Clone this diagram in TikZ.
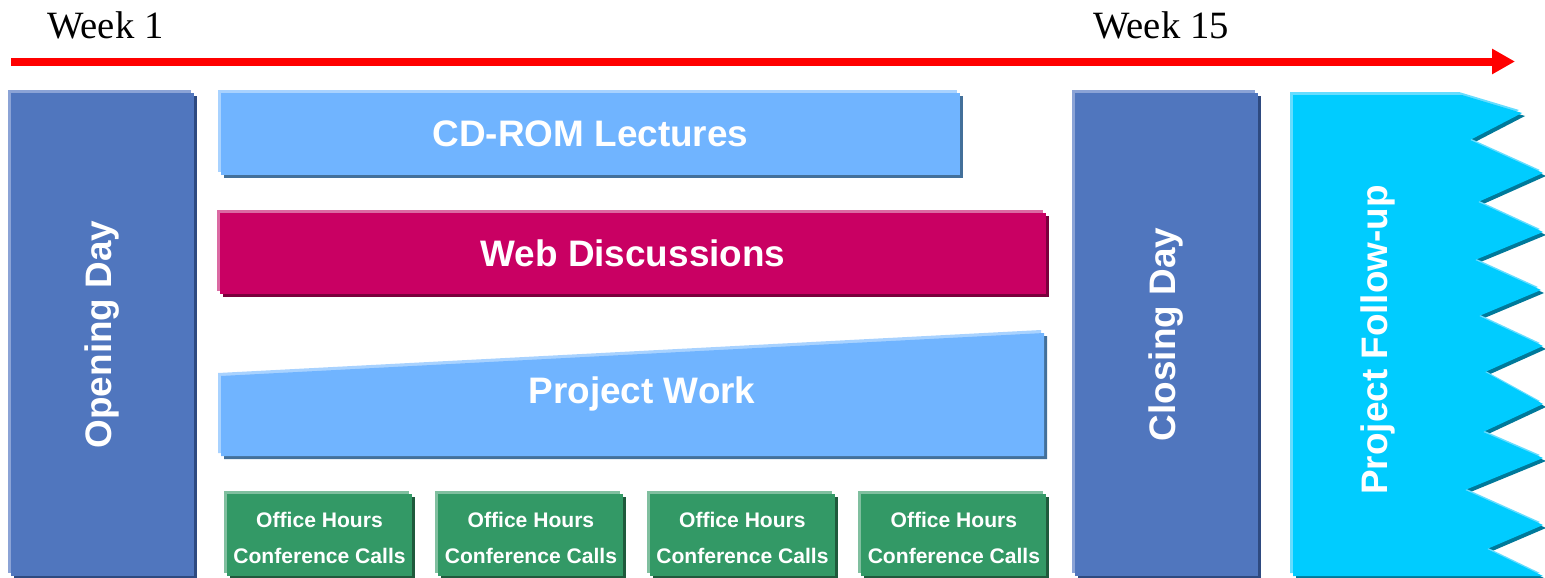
\documentclass[tikz,border=0pt]{standalone}
\usepackage{fontspec}
\setmainfont{Liberation Serif}
\setsansfont{Liberation Sans}
\usepackage{tikz}
\usetikzlibrary{arrows.meta, positioning, shadows}
\definecolor{dayblue}{HTML}{5076BE}
\definecolor{daylight}{HTML}{8BA3D6}
\definecolor{daydark}{HTML}{2E4A80}
\definecolor{lectureblue}{HTML}{70B4FF}
\definecolor{lecturelight}{HTML}{A8D2FF}
\definecolor{lecturedark}{HTML}{43709A}
\definecolor{webpink}{HTML}{C90063}
\definecolor{weblight}{HTML}{DB6AA3}
\definecolor{webdark}{HTML}{7A003C}
\definecolor{officegreen}{HTML}{339966}
\definecolor{officelight}{HTML}{80BF9F}
\definecolor{officedark}{HTML}{1F5A3C}
\definecolor{followcyan}{HTML}{00CCFF}
\definecolor{followlight}{HTML}{66DDFF}
\definecolor{followdark}{HTML}{00799A}
\tikzset{
    slab/.style n args={3}{fill=#1, copy shadow={shadow xshift=0.06cm, shadow yshift=-0.06cm, fill=#3, draw=none}, copy shadow={shadow xshift=-0.06cm, shadow yshift=0.06cm, fill=#2, draw=none}},
    dayblock/.style={rectangle, inner sep=0pt, outer sep=0pt, minimum width=3.66cm, minimum height=9.66cm, slab={dayblue}{daylight}{daydark}, text=white, font=\sffamily\bfseries\fontsize{21}{25}\selectfont},
    bar/.style={rectangle, inner sep=0pt, outer sep=0pt, minimum height=1.63cm, text=white, font=\sffamily\bfseries\fontsize{21}{25}\selectfont},
    officebox/.style={rectangle, inner sep=0pt, outer sep=0pt, minimum width=3.7cm, minimum height=1.64cm, align=center, text height=32.5pt, slab={officegreen}{officelight}{officedark}, text=white, font=\sffamily\bfseries\fontsize{12}{20.5}\selectfont},
    bartext/.style={text=white, font=\sffamily\bfseries\fontsize{21}{25}\selectfont},
    weeklabel/.style={anchor=base west, inner sep=0pt, font=\fontsize{22}{26}\selectfont},
    timeline/.style={line width=0.16cm, red, -{Triangle[length=0.46cm, width=0.48cm]}}
}
\begin{document}
\begin{tikzpicture}[x=0.02cm, y=-0.02cm]
    \useasboundingbox (0,0) rectangle (1545,578);

    \node (week1) [weeklabel] at (47,38) {Week 1};
    \node (week15) [weeklabel] at (1093,38) {Week 15};
    \coordinate (tstart) at (11,61.5);
    \coordinate (tend) at (1515,61.5);
    \draw [timeline] (tstart) -- (tend);

    \node (opening) [dayblock] at (102.5,334.5) {\rotatebox{90}{Opening Day}};
    \node (closing) [dayblock] at (1166.5,334.5) {\rotatebox{90}{Closing Day}};

    \node (cdrom) [bar, minimum width=14.78cm, slab={lectureblue}{lecturelight}{lecturedark}] at (590.5,134) {CD-ROM Lectures};
    \node (web) [bar, minimum width=16.52cm, slab={webpink}{weblight}{webdark}] at (633,253.5) {Web Discussions};

    \path [slab={lectureblue}{lecturelight}{lecturedark}] (221,376) -- (1044,333) -- (1044,456) -- (221,456) -- cycle;
    \node (project) [bartext, anchor=base] at (642,403) {Project Work};

    \node (office1) [officebox] at (319.5,535) {Office Hours\\Conference Calls};
    \node (office2) [officebox, right=0.53cm of office1] {Office Hours\\Conference Calls};
    \node (office3) [officebox, right=0.53cm of office2] {Office Hours\\Conference Calls};
    \node (office4) [officebox, right=0.53cm of office3] {Office Hours\\Conference Calls};

    \path [slab={followcyan}{followlight}{followdark}] (1293,95) -- (1462,95) -- (1522,113) -- (1470,140) -- (1543,173) -- (1478,202) -- (1543,232) -- (1475,260) -- (1541,290) -- (1479,316) -- (1543,346) -- (1485,372) -- (1543,404) -- (1483,432) -- (1543,458) -- (1465,490) -- (1543,525) -- (1487,549) -- (1543,576) -- (1293,576) -- cycle;
    \node (followup) [bartext] at (1378,340) {\rotatebox{90}{Project Follow-up}};
\end{tikzpicture}
\end{document}
